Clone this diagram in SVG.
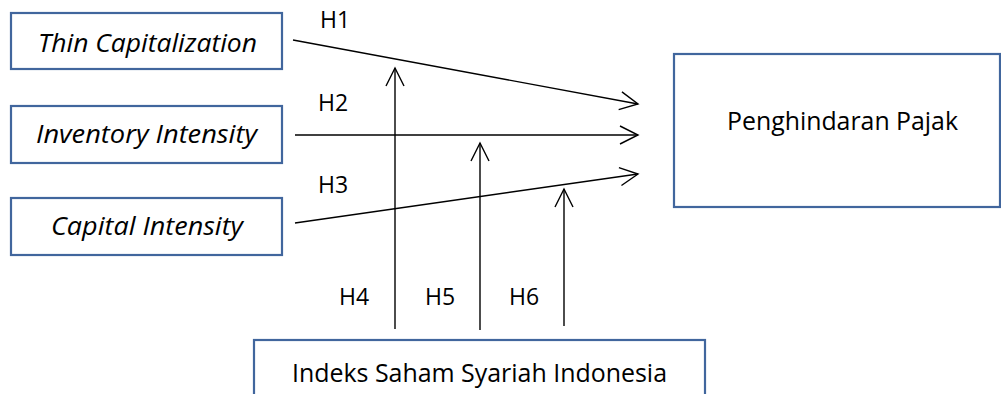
<svg xmlns="http://www.w3.org/2000/svg" width="1001" height="394" viewBox="0 0 1001 394">
  <style>
    .box { fill: #ffffff; stroke: #41669d; stroke-width: 2.2; }
    .lbl { font-family: "Open Sans", "Liberation Sans", sans-serif; font-size: 25px; fill: #000000; }
    .it { font-style: italic; }
    .h { font-family: "Open Sans", "Liberation Sans", sans-serif; font-size: 23px; fill: #000000; }
    .conn { stroke: #000000; stroke-width: 1.4; fill: none; marker-end: url(#arr); }
  </style>
  <defs>
    <marker id="arr" markerUnits="userSpaceOnUse" markerWidth="40" markerHeight="40" viewBox="-20 -20 40 40" refX="0" refY="0" orient="auto">
      <path d="M-18,-9 L0,0 L-18,9" fill="none" stroke="#000000" stroke-width="1.4"/>
    </marker>
  </defs>
  <rect width="1001" height="394" fill="#ffffff"/>
  <g id="thin-capitalization">
    <rect class="box" x="11" y="13" width="271" height="56"/>
    <text class="lbl it" x="38" y="52" textLength="219" lengthAdjust="spacingAndGlyphs">Thin Capitalization</text>
  </g>
  <g id="inventory-intensity">
    <rect class="box" x="11" y="106" width="271" height="57"/>
    <text class="lbl it" x="36" y="143" textLength="221" lengthAdjust="spacingAndGlyphs">Inventory Intensity</text>
  </g>
  <g id="capital-intensity">
    <rect class="box" x="11" y="198" width="271" height="57"/>
    <text class="lbl it" x="51" y="235" textLength="192" lengthAdjust="spacingAndGlyphs">Capital Intensity</text>
  </g>
  <g id="penghindaran-pajak">
    <rect class="box" x="674" y="54" width="326" height="153"/>
    <text class="lbl" x="727" y="130" textLength="231" lengthAdjust="spacingAndGlyphs">Penghindaran Pajak</text>
  </g>
  <g id="issi">
    <rect class="box" x="254" y="340" width="451" height="60"/>
    <text class="lbl" x="292" y="382" textLength="375" lengthAdjust="spacingAndGlyphs">Indeks Saham Syariah Indonesia</text>
  </g>
  <g id="connectors">
    <line class="conn" x1="293" y1="40" x2="638" y2="104"/>
    <line class="conn" x1="295" y1="135" x2="638" y2="135"/>
    <line class="conn" x1="295" y1="223" x2="638" y2="174"/>
    <line class="conn" x1="395" y1="329" x2="395" y2="68"/>
    <line class="conn" x1="480" y1="330" x2="480" y2="143"/>
    <line class="conn" x1="564" y1="326" x2="564" y2="189"/>
    <text class="h" x="320" y="28">H1</text>
    <text class="h" x="318" y="111">H2</text>
    <text class="h" x="318" y="193">H3</text>
    <text class="h" x="339" y="305">H4</text>
    <text class="h" x="425" y="305">H5</text>
    <text class="h" x="509" y="305">H6</text>
  </g>
</svg>
